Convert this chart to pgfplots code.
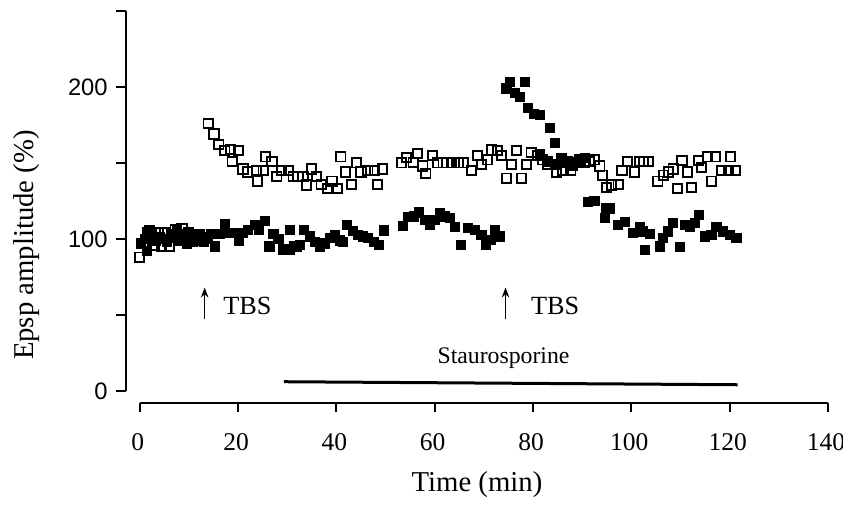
\documentclass[border=0pt]{standalone}
\usepackage{fontspec}
\setmainfont{Liberation Serif}
\setsansfont{Liberation Sans}
\usepackage{pgfplots}
\pgfplotsset{compat=1.18}
\usetikzlibrary{arrows.meta}

\begin{document}
\begin{tikzpicture}
\useasboundingbox (-50.4pt,-46.8pt) rectangle (286.8pt,161.2pt);
\begin{axis}[
  at={(0pt,0pt)}, anchor=south west,
  scale only axis, width=280.8pt, height=156.8pt,
  xmin=-2.8, xmax=140, ymin=-8, ymax=250,
  axis x line*=bottom, axis y line*=left,
  axis line style={draw=none},
  clip=false,
  tick align=outside, major tick length=3.8pt,
  tick style={black, line width=0.8pt},
  xtick={0,20,...,140},
  ytick={0,50,...,250},
  yticklabels={0,,100,,200,},
  /pgf/number format/assume math mode=true,
  xticklabel style={font=\fontsize{10.2}{12}\selectfont, yshift=-5pt, xshift=-0.8pt},
  yticklabel style={font=\sffamily\fontsize{9.5}{11}\selectfont, xshift=0pt},
  xlabel={Time (min)},
  ylabel={Epsp amplitude (\%)},
  xlabel style={font=\fontsize{11.5}{13}\selectfont, at={(axis description cs:0.5,0)}, anchor=center, yshift=-32.5pt},
  ylabel style={font=\fontsize{11.5}{13}\selectfont, at={(axis description cs:-0.142,0.403)}, anchor=center},
]
% axes drawn apart, as in the figure
\draw[line width=0.8pt] (axis cs:-2.8,0) -- (axis cs:-2.8,250);
\draw[line width=0.8pt] (axis cs:0,-8) -- (axis cs:140,-8);

% open squares
\addplot[only marks, mark=square, mark size=1.85pt, mark options={line width=0.75pt, fill=white}] coordinates {
(0,88) (0.8,97) (1.6,104) (2.4,104) (3,96) (3.7,104) (4.5,95) (5,104) (6,95)
(6.5,101) (7.2,106) (8,99) (8.6,107) (9.4,100) (10,104) (10.8,98) (11.5,103)
(12.3,100) (13,101)
(13.9,176) (15.1,169) (16.1,162) (17.3,158) (18.5,159) (18.8,151) (20,158)
(21,146) (22,144) (23.7,145) (23.9,138) (25.1,145) (25.6,154) (26.9,151)
(27.9,141) (28.8,145) (30.2,145) (31.2,141) (32.2,141) (33.2,141) (33.9,135.5)
(34.9,146) (35.9,141) (36.9,136) (38.2,133) (39.1,138) (40.2,133) (40.9,154)
(41.9,144) (43.1,136) (44.1,150) (45,144) (46.4,145) (47.8,145) (48.3,136)
(49.4,146)
(53.2,150) (54.3,153.5) (55.6,150.4) (56.5,156.4) (57.6,148) (58.2,143)
(59.5,155) (60.6,150) (61.7,150) (62.5,150) (63.4,150) (64.8,150) (65.8,150)
(67.5,145) (68.7,155) (69.5,149) (70.7,152) (71.5,158.6) (72.8,158) (73.6,155)
(74.6,140)
(75.6,149) (76.6,158) (77.6,140) (78.7,149) (79.6,157) (81,155) (82,152)
(83,149) (84.8,144) (86.1,145) (87.7,145) (88.5,150) (89.5,152) (90.5,150)
(91.5,151) (92.5,152) (93.6,148) (94.1,142) (94.9,134)
(95.9,135.5) (97.3,136) (98.1,145) (99.2,151) (100.6,144) (101.7,151)
(102.5,151) (103.4,151) (105.4,138) (106.5,142) (107.5,144) (108.5,146)
(109.4,133) (110.3,151.5) (111.4,144) (112.2,134) (113.6,151.5) (114.3,147)
(115.5,154) (116.3,138) (117.1,154) (118.3,145) (119.7,145) (120.2,154)
(121.2,145)
};

% filled squares
\addplot[only marks, mark=square*, mark size=1.85pt, mark options={black}] coordinates {
(0.3,97) (1,100) (1.5,92) (2,106) (2.6,101) (3.3,99) (4,101) (5,100) (5.6,98)
(6.3,103) (7,102) (7.6,106) (8.3,100) (9,103) (9.6,97) (10.3,103) (11,101)
(11.6,99) (12.3,103) (13,98) (13.9,100) (14.6,103) (15.3,95) (16.2,103)
(17.3,110) (18.2,104) (19.3,104) (20.2,99) (21,104) (22,106) (23.4,109)
(24.3,106) (25.4,112) (26.4,95) (27.2,103) (28.2,100) (29.2,93)
(30.5,93) (30.5,106) (31.5,95) (31.9,94.5) (32.6,96) (33.4,106) (34.6,101.5)
(35.6,98) (36.6,95) (37.6,97) (38.7,100.5) (39.7,102.6) (40.7,99) (41.4,98)
(42.2,109) (43.4,105) (44.4,102.6) (45.4,101.5) (46.4,100.5) (47.7,98)
(48.6,96) (49.7,105.5)
(53.6,108.6) (54.6,114.3) (55.8,114.7) (56.8,117.3) (58,112.5) (59,109.2)
(60,112.5) (61,116.9) (62,114.7) (63.1,113.6) (64.1,108) (65.4,96) (66.8,107)
(68.2,106) (69.5,102.6) (70.5,96) (71.5,99.3) (72.2,106) (73.2,101.5)
(74.6,199) (75.3,203.5) (76.3,196) (77.3,193.6) (78.3,203.5) (79,186)
(80.2,182) (81.4,181.6) (83.4,172.8) (84.4,163) (81.4,156) (83.1,151)
(84.4,149) (85.8,153) (86.5,150) (87.1,151) (88,148) (88.8,150) (89.8,151)
(90.5,153) (91.2,124.5) (92.5,125) (94.6,113.6) (94.9,120)
(95.6,120) (97.3,109) (98.7,111) (100.4,103.7) (101.7,108) (102.4,104.8)
(102.7,92.8) (103.8,103.3) (105.8,95) (106.5,100.5) (107.5,104.8) (108.5,110.3)
(109.9,94.5) (110.9,109.2) (111.9,108) (112.9,110.3) (113.7,115.8) (115,101.5)
(116.3,102.6) (117.3,108) (118.7,104.8) (120,102.6) (121.4,100.5)
};

% annotations
\draw[line width=0.6pt, -{Stealth[length=4pt,width=3pt]}] (axis cs:13.2,47) -- (axis cs:13.2,68);
\node[anchor=west, font=\fontsize{10.5}{12}\selectfont] at (axis cs:15.2,56) {TBS};
\draw[line width=0.6pt, -{Stealth[length=4pt,width=3pt]}] (axis cs:74.4,47) -- (axis cs:74.4,68);
\node[anchor=west, font=\fontsize{10.5}{12}\selectfont] at (axis cs:77.8,56) {TBS};
\draw[line width=1.2pt] (axis cs:29.3,6) -- (axis cs:121.6,4);
\node[font=\fontsize{9.5}{11}\selectfont] at (axis cs:74,21.5) {Staurosporine};
\end{axis}
\end{tikzpicture}
\end{document}
